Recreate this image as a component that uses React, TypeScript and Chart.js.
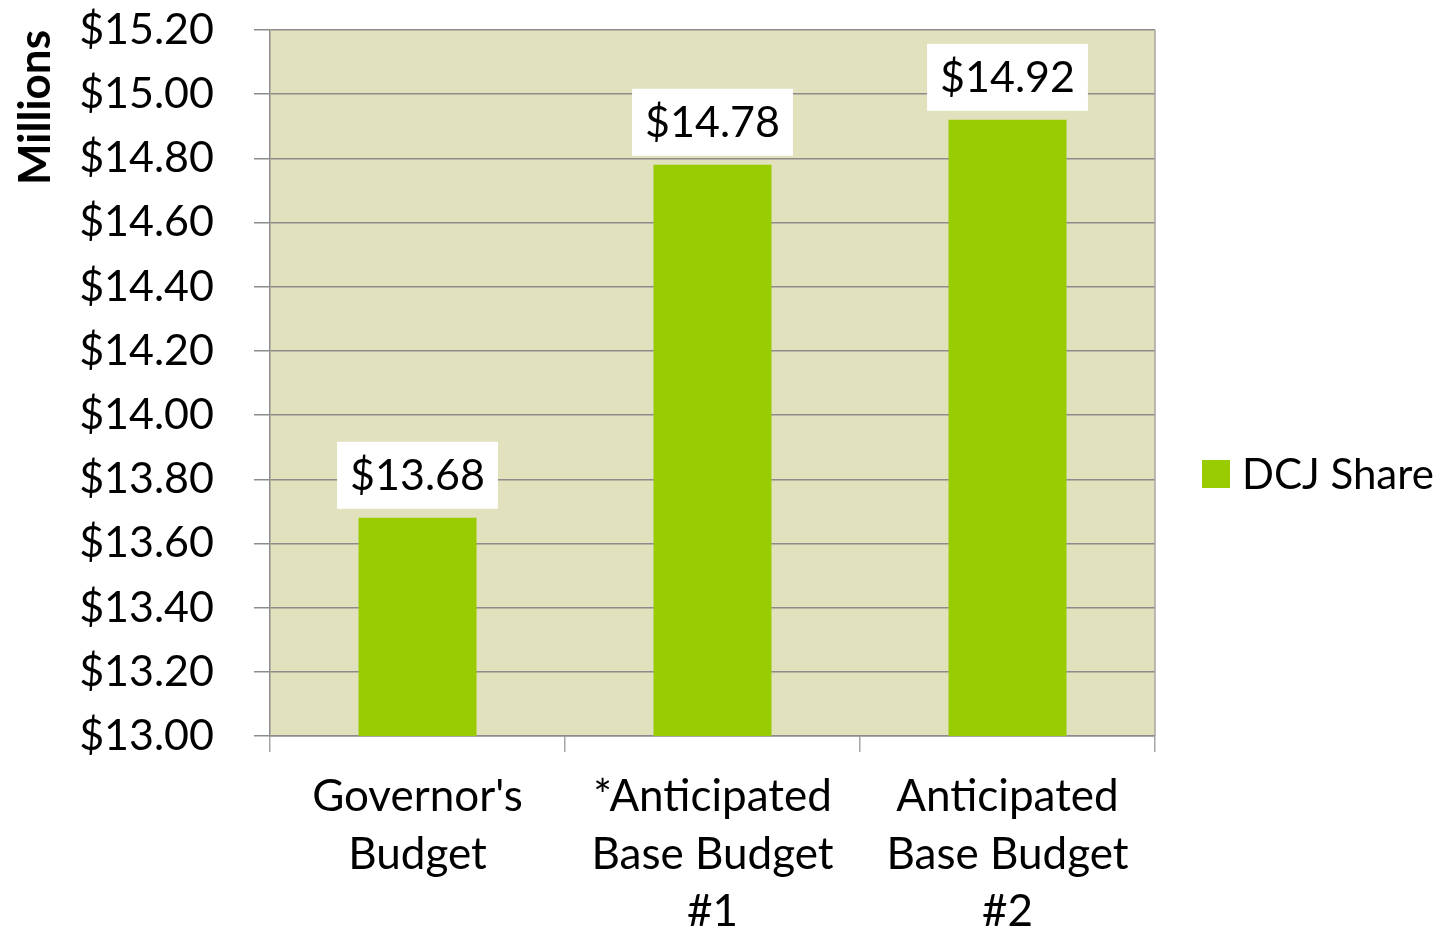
import { useEffect, useRef } from 'react';
import { Chart, registerables } from 'chart.js';

Chart.register(...registerables);

const categories: string[][] = [
  ["Governor's", 'Budget'],
  ['*Anticipated', 'Base Budget', '#1'],
  ['Anticipated', 'Base Budget', '#2'],
];
const seriesName = 'DCJ Share';
const dcjShare = [13.68, 14.78, 14.92];
const yMin = 13.0;
const yMax = 15.2;
const yStep = 0.2;
const axisTitle = 'Millions';

const FONT = 'Lato, "Open Sans", sans-serif';
const money = (v: number) => '$' + Number(v).toFixed(2);

const bgPlugin = {
  id: 'plotBg',
  beforeDraw(chart: any) {
    const { ctx, chartArea } = chart;
    ctx.save();
    ctx.fillStyle = '#ffffff';
    ctx.fillRect(0, 0, chart.width, chart.height);
    ctx.fillStyle = '#E2E1BE';
    ctx.fillRect(chartArea.left, chartArea.top, chartArea.right - chartArea.left, chartArea.bottom - chartArea.top);
    ctx.restore();
  },
  afterDraw(chart: any) {
    const { ctx, chartArea } = chart;
    ctx.save();
    ctx.strokeStyle = '#a6a6a6';
    ctx.lineWidth = 1.5;
    ctx.beginPath();
    ctx.moveTo(chartArea.right, chartArea.top);
    ctx.lineTo(chartArea.right, chartArea.bottom);
    ctx.stroke();
    // legend
    chart.data.datasets.forEach((ds: any, i: number) => {
      const x = chartArea.right + 47;
      const cy = 474 + i * 50;
      ctx.fillStyle = ds.backgroundColor;
      ctx.fillRect(x, cy - 14, 28, 28);
      ctx.fillStyle = '#000';
      ctx.font = `42px ${FONT}`;
      ctx.textBaseline = 'middle';
      ctx.textAlign = 'left';
      ctx.fillText(ds.label, x + 40, cy + 1);
    });
    ctx.restore();
  },
};

const labelPlugin = {
  id: 'valueLabels',
  afterDatasetsDraw(chart: any) {
    const { ctx } = chart;
    ctx.save();
    ctx.font = `43px ${FONT}`;
    chart.data.datasets.forEach((ds: any, di: number) => {
      const meta = chart.getDatasetMeta(di);
      meta.data.forEach((el: any, i: number) => {
        const txt = money(ds.data[i]);
        const w = ctx.measureText(txt).width + 26;
        const h = 67;
        const bx = el.x - w / 2;
        const by = el.y - 9 - h;
        ctx.fillStyle = '#ffffff';
        ctx.fillRect(bx, by, w, h);
        ctx.fillStyle = '#000';
        ctx.textAlign = 'center';
        ctx.textBaseline = 'middle';
        ctx.fillText(txt, el.x, by + h / 2 + 1);
      });
    });
    ctx.restore();
  },
};

export default function App() {
  const ref = useRef<HTMLCanvasElement>(null);
  useEffect(() => {
    if (!ref.current) return;
    const chart = new Chart(ref.current, {
      type: 'bar',
      data: {
        labels: categories,
        datasets: [
          {
            label: seriesName,
            data: dcjShare,
            backgroundColor: '#99CC00',
            borderWidth: 0,
            barPercentage: 0.4,
            categoryPercentage: 1,
          },
        ],
      },
      options: {
        responsive: false,
        animation: false,
        layout: { padding: { left: 0, right: 285, top: 0, bottom: 0 } },
        plugins: { legend: { display: false }, tooltip: { enabled: false } },
        scales: {
          x: {
            grid: { drawOnChartArea: false, drawTicks: true, tickLength: 16, color: '#a6a6a6', lineWidth: 1.5, offset: true },
            border: { display: true, color: '#8c8c8c', width: 1.5 },
            ticks: { color: '#000', font: { family: FONT, size: 44, lineHeight: 1.31 }, padding: 16, maxRotation: 0, autoSkip: false },
            afterFit(scale: any) {
              scale.height = 195;
            },
          },
          y: {
            min: yMin,
            max: yMax,
            grid: { color: '#8c8c8c', lineWidth: 1.5, tickLength: 16, drawTicks: true },
            border: { display: true, color: '#8c8c8c', width: 1.5 },
            ticks: {
              stepSize: yStep,
              color: '#000',
              font: { family: FONT, size: 43 },
              padding: 40,
              callback: (v: any) => money(v),
            },
            title: {
              display: true,
              text: axisTitle,
              align: 'end',
              color: '#000',
              font: { family: FONT, size: 44, weight: 'bold', lineHeight: 1.2 },
              padding: { top: 9, bottom: 0 },
            },
            afterFit(scale: any) {
              scale.width = 270;
              scale.paddingTop = 30;
              scale.paddingBottom = 0;
            },
          },
        },
      },
      plugins: [bgPlugin, labelPlugin],
    });
    return () => chart.destroy();
  }, []);
  return (
    <div style={{ position: 'fixed', left: 0, top: 0, width: 1440, height: 931, background: '#fff' }}>
      <canvas ref={ref} width={1440} height={931} style={{ width: 1440, height: 931, display: 'block' }} />
    </div>
  );
}
